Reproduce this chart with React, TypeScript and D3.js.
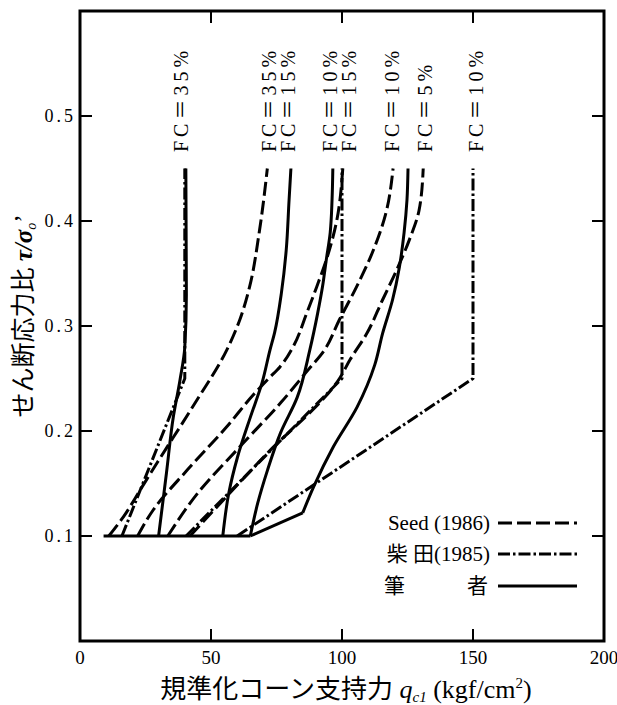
import React from 'react';
import * as d3 from 'd3';

type Pt = [number, number];

// axis ticks
const xTickValues = [0, 50, 100, 150, 200];
const xInnerTicks = [50, 100, 150];
const yTickValues = [0.1, 0.2, 0.3, 0.4, 0.5];

// Seed (1986) — dashed
const seedFC35: Pt[] = [[11, 0.1], [16.5, 0.118], [23, 0.144], [29.5, 0.17], [43.5, 0.225], [56, 0.277], [61, 0.306], [64.7, 0.337], [68.4, 0.389], [71.5, 0.45]];
const seedFC15: Pt[] = [[22, 0.1], [28, 0.125], [41, 0.163], [56, 0.204], [66, 0.234], [72, 0.25], [76.3, 0.261], [81.3, 0.28], [86.5, 0.312], [90.3, 0.337], [94.4, 0.366], [97.8, 0.398], [100.3, 0.45]];
const seedFC10: Pt[] = [[33.5, 0.1], [45, 0.141], [61, 0.185], [77, 0.228], [87, 0.258], [93, 0.276], [99, 0.306], [105.5, 0.337], [111.6, 0.37], [116.8, 0.408], [119.5, 0.45]];
const seedFC5: Pt[] = [[42, 0.1], [70, 0.175], [99.3, 0.251], [103.1, 0.268], [109.5, 0.293], [115.5, 0.325], [120.8, 0.353], [125.7, 0.382], [129.4, 0.41], [131, 0.45]];

// Shibata (1985) — dash-dot
const shibataFC35: Pt[] = [[16, 0.1], [40, 0.25], [40, 0.45]];
const shibataFC15: Pt[] = [[40.5, 0.1], [100, 0.25], [100, 0.45]];
const shibataFC10: Pt[] = [[60, 0.1], [150, 0.25], [150, 0.45]];

// Author — solid
const authorFC35: Pt[] = [[30, 0.1], [33, 0.16], [35.6, 0.213], [38.2, 0.249], [40, 0.28], [40.6, 0.33], [40.4, 0.45]];
const authorFC15: Pt[] = [[54.5, 0.1], [56.8, 0.141], [60.1, 0.175], [65, 0.213], [69.5, 0.246], [72.5, 0.277], [74.3, 0.294], [76.9, 0.332], [78.7, 0.372], [79.8, 0.42], [80.5, 0.45]];
const authorFC10: Pt[] = [[65, 0.1], [67.8, 0.131], [71.6, 0.163], [76.5, 0.198], [82.9, 0.232], [87.7, 0.277], [90.7, 0.312], [92.6, 0.338], [94, 0.363], [95.5, 0.389], [96.2, 0.42], [96.5, 0.45]];
const authorFC5Kink: Pt[] = [[65, 0.1], [85, 0.122]];
const authorFC5: Pt[] = [[85, 0.122], [89.2, 0.147], [96.7, 0.185], [105.8, 0.223], [112.5, 0.263], [115.5, 0.293], [119.3, 0.325], [121.9, 0.356], [123.7, 0.389], [124.8, 0.42], [125.2, 0.45]];
const authorBase: Pt[] = [[9, 0.1], [65, 0.1]];

// curve labels at top
const labelTexts = ['FC＝35%', 'FC＝35%', 'FC＝15%', 'FC＝10%', 'FC＝15%', 'FC＝10%', 'FC＝5%', 'FC＝10%'];
const labelQ = [38.5, 72, 79.5, 95.5, 102.5, 119, 131.5, 151];

// legend
const legendLabels = ['Seed (1986)', '柴 田(1985)', '筆者'];

const W = 617;
const H = 705;
const SERIF = "'Liberation Serif', 'Times New Roman', 'DejaVu Serif', 'Noto Sans CJK JP', serif";

const DASH = '14,5';
const DASHDOT = '12,3,2.5,3';

export default function App() {
  const x = d3.scaleLinear().domain([0, 200]).range([80, 604]);
  const y = d3.scaleLinear().domain([0, 0.6]).range([641, 11]);

  const smooth = d3.line<Pt>().x(d => x(d[0])).y(d => y(d[1])).curve(d3.curveMonotoneY);
  const straight = d3.line<Pt>().x(d => x(d[0])).y(d => y(d[1]));

  const seedCurves = [seedFC35, seedFC15, seedFC10, seedFC5];
  const shibataCurves = [shibataFC35, shibataFC15, shibataFC10];
  const authorSmooth = [authorFC35, authorFC15, authorFC10, authorFC5];
  const authorStraight = [authorFC5Kink, authorBase];

  const [x0, x1] = x.range();
  const [y0, y1] = y.range();
  const tickLen = 12;

  const legendRowsY = [523, 554, 586];
  const ts = { fontFamily: SERIF } as React.CSSProperties;

  return (
    <svg width={W} height={H} style={{ position: 'absolute', left: 0, top: 0, background: '#fff', fontFamily: SERIF }}>
      <rect x={0} y={0} width={W} height={H} fill="#fff" />

      {/* curves */}
      <g fill="none" stroke="#000" strokeWidth={3} strokeLinejoin="round">
        {seedCurves.map((c, i) => (
          <path key={'s' + i} d={smooth(c) || ''} strokeDasharray={DASH} />
        ))}
        {shibataCurves.map((c, i) => (
          <path key={'t' + i} d={straight(c) || ''} strokeDasharray={DASHDOT} />
        ))}
        {authorSmooth.map((c, i) => (
          <path key={'a' + i} d={smooth(c) || ''} />
        ))}
        {authorStraight.map((c, i) => (
          <path key={'b' + i} d={straight(c) || ''} />
        ))}
      </g>

      {/* frame */}
      <rect x={x0} y={y1} width={x1 - x0} height={y0 - y1} fill="none" stroke="#000" strokeWidth={3} />

      {/* ticks */}
      <g stroke="#000" strokeWidth={2}>
        {xInnerTicks.map(t => (
          <g key={'xt' + t}>
            <line x1={x(t)} x2={x(t)} y1={y0} y2={y0 - tickLen} />
            <line x1={x(t)} x2={x(t)} y1={y1} y2={y1 + tickLen} />
          </g>
        ))}
        {yTickValues.map(t => (
          <g key={'yt' + t}>
            <line x1={x0} x2={x0 + tickLen} y1={y(t)} y2={y(t)} />
            <line x1={x1} x2={x1 - tickLen} y1={y(t)} y2={y(t)} />
          </g>
        ))}
      </g>

      {/* tick labels */}
      <g fontSize={19} fill="#000">
        {xTickValues.map(t => (
          <text key={'xl' + t} style={ts} x={x(t)} y={664} textAnchor="middle">{t}</text>
        ))}
      </g>
      <g fontSize={18} fill="#000">
        {yTickValues.map(t => (
          <text key={'yl' + t} style={{ ...ts, letterSpacing: '3px' }} x={76} y={y(t)} dy="0.35em" textAnchor="end">{d3.format('.1f')(t)}</text>
        ))}
      </g>

      {/* curve labels */}
      <g fontSize={20} fill="#000">
        {labelTexts.map((s, i) => (
          <text key={'lab' + i} style={{ ...ts, letterSpacing: '4px' }} transform={`translate(${x(labelQ[i]) + 7},152) rotate(-90)`} textAnchor="start">{s}</text>
        ))}
      </g>

      {/* legend */}
      <g fontSize={21} fill="#000">
        <text style={ts} x={490} y={legendRowsY[0]} dy="0.35em" textAnchor="end">{legendLabels[0]}</text>
        <text style={ts} x={490} y={legendRowsY[1]} dy="0.35em" textAnchor="end">{legendLabels[1]}</text>
        <text style={ts} x={384} y={legendRowsY[2]} dy="0.35em" textAnchor="start">{legendLabels[2][0]}</text>
        <text style={ts} x={488} y={legendRowsY[2]} dy="0.35em" textAnchor="end">{legendLabels[2][1]}</text>
      </g>
      <g stroke="#000" strokeWidth={3}>
        <line x1={498} x2={577} y1={legendRowsY[0]} y2={legendRowsY[0]} strokeDasharray={DASH} />
        <line x1={498} x2={577} y1={legendRowsY[1]} y2={legendRowsY[1]} strokeDasharray={DASHDOT} />
        <line x1={498} x2={577} y1={legendRowsY[2]} y2={legendRowsY[2]} />
      </g>

      {/* axis titles */}
      <text style={ts} x={346} y={698} textAnchor="middle" fontSize={26} fill="#000">
        規準化コーン支持力 <tspan fontStyle="italic">q</tspan><tspan fontStyle="italic" fontSize={15} dy={4}>c1</tspan><tspan dy={-4}> (kgf/cm</tspan><tspan fontSize={15} dy={-10}>2</tspan><tspan dy={10}>)</tspan>
      </text>
      <text style={ts} transform="translate(32,316) rotate(-90)" textAnchor="middle" fontSize={25} fill="#000">
        せん断応力比 <tspan fontStyle="italic" fontWeight="bold">τ/σ</tspan><tspan fontStyle="italic" fontSize={14} dy={4}>o</tspan><tspan dy={-4}>’</tspan>
      </text>
    </svg>
  );
}
